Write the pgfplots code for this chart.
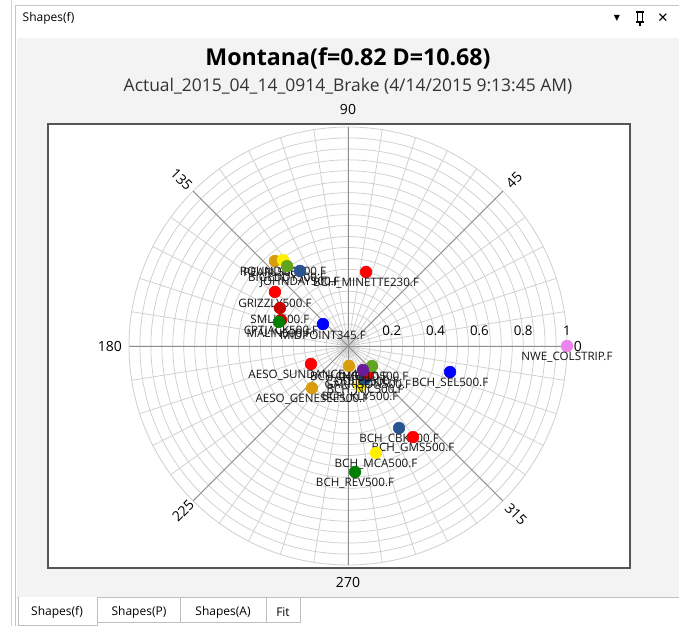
\documentclass[border=0pt]{standalone}
\usepackage{fontspec}
\setmainfont{Open Sans}
\newfontfamily\symfont{DejaVu Sans}
\usepackage{pgfplots}
\pgfplotsset{compat=1.18}
\usepgfplotslibrary{polar}

\definecolor{panelgray}{HTML}{F3F3F3}
\definecolor{boxgray}{HTML}{555555}
\definecolor{gridlight}{HTML}{CFCFCF}
\definecolor{gridmajor}{HTML}{8E8E8E}
\definecolor{labtext}{HTML}{141414}
\definecolor{ptviolet}{HTML}{EE82EE}
\definecolor{ptblue}{HTML}{0000FF}
\definecolor{ptred}{HTML}{FF0000}
\definecolor{ptdred}{HTML}{C80000}
\definecolor{ptgold}{HTML}{D89C0C}
\definecolor{ptyellow}{HTML}{FFF000}
\definecolor{ptgreen}{HTML}{008000}
\definecolor{ptlime}{HTML}{62A420}
\definecolor{ptnavy}{HTML}{2A5490}
\definecolor{ptpurple}{HTML}{6A1B9A}

\newcommand{\labfont}{\fontsize{8.7}{10}\selectfont}
\newcommand{\angfont}{\fontsize{10.5}{12}\selectfont}
\newcommand{\radfont}{\fontsize{10}{12}\selectfont}

\pgfplotsset{
  pt/.style={only marks, color=#1, mark=*, mark size=4.4pt, mark options={draw=#1, fill=#1}},
  lab/.style={nodes near coords={#1},
    every node near coord/.append style={anchor=center, yshift=-8.3pt,
      font=\labfont, text=labtext, inner sep=0pt}},
}

\begin{document}
\begin{tikzpicture}[x=0.75pt,y=0.75pt]
\fill[white] (0,0) rectangle (679,626);
\useasboundingbox (0,0) rectangle (679,626);
% window chrome
\fill[panelgray] (17,29) rectangle (679,588);
\draw[gray!45] (15.5,0) -- (15.5,621) -- (679,621);
\draw[gray!35] (11.5,0) -- (11.5,626);
\node[anchor=west, font=\fontsize{9}{10}\selectfont] at (18,608) {Shapes(f)};
\node[font=\symfont\fontsize{6}{7}\selectfont] at (617,608) {▼};
\draw[line width=1.1] (636,614) -- (644,614);
\draw[line width=1.1] (637.5,614) -- (637.5,604) (642.5,614) -- (642.5,604) (636,604) -- (644,604);
\draw[line width=1.1] (640,604) -- (640,600);
\node[font=\symfont\fontsize{10}{12}\selectfont] at (663,608) {✕};
% tabs
\draw[gray!50] (17,29) -- (679,29);
\fill[white] (18,1) rectangle (97,29);
\draw[gray!50] (18,29) -- (18,1) -- (97,1) -- (97,29);
\draw[gray!50] (97,4) -- (180,4) -- (180,29) (180,4) -- (266,4) -- (266,29) (266,4) -- (300,4) -- (300,29);
\node[font=\fontsize{9}{10}\selectfont] at (57,14) {Shapes(f)};
\node[font=\fontsize{9}{10}\selectfont] at (139,14) {Shapes(P)};
\node[font=\fontsize{9}{10}\selectfont] at (223,14) {Shapes(A)};
\node[font=\fontsize{9}{10}\selectfont] at (283,14) {Fit};
% chart box and titles
\filldraw[fill=white, draw=boxgray, line width=1.5] (48,502) rectangle (630,58);
\node[font=\bfseries\fontsize{17.4}{20}\selectfont] at (348,568) {Montana(f=0.82 D=10.68)};
\node[font=\fontsize{13.1}{15}\selectfont, text=black!80] at (348,540) {Actual\_2015\_04\_14\_0914\_Brake (4/14/2015 9:13:45 AM)};

\begin{polaraxis}[
  at={(261pt,210pt)}, anchor=center,
  scale only axis, width=328.5pt, height=328.5pt,
  ymin=0, ymax=1, clip=false,
  xtick={0,9,...,351},
  ytick={0.05,0.1,...,0.96},
  grid=major,
  major grid style={draw=gridlight, line width=0.55pt},
  axis line style={draw=gridlight, line width=0.6pt},
  major tick length=0pt, minor tick length=0pt,
  xticklabels={}, yticklabels={},
]
% darker spokes every 45 degrees
\draw[gridmajor, line width=0.7pt] (axis cs:0,1) -- (axis cs:180,1);
\draw[gridmajor, line width=0.7pt] (axis cs:90,1) -- (axis cs:270,1);
\draw[gridmajor, line width=0.7pt] (axis cs:45,1) -- (axis cs:225,1);
\draw[gridmajor, line width=0.7pt] (axis cs:135,1) -- (axis cs:315,1);
% upper left cluster
\addplot[pt=ptgold, lab={PEARL500.F}] coordinates {(130.7,0.512)};
\addplot[pt=ptyellow, lab={ROUNDUP500.F}] coordinates {(127.1,0.492)};
\addplot[pt=ptlime, lab={BIGEDDY500.F}] coordinates {(127.3,0.459)};
\addplot[pt=ptnavy, lab={JOHNDAY500.F}] coordinates {(122.6,0.407)};
\addplot[pt=ptred, lab={BCH\_MINETTE230.F}] coordinates {(76.3,0.348)};
\addplot[pt=ptred, lab={GRIZZLY500.F}] coordinates {(143.5,0.415)};
\addplot[pt=ptdred, lab={SMLK500.F}] coordinates {(150.8,0.356)};
\addplot[pt=ptdred, lab={CPTJACK500.F}] coordinates {(158.8,0.328)};
\addplot[pt=ptgreen, lab={MALIN500.F}] coordinates {(160.8,0.334)};
\addplot[pt=ptblue, lab={MIDPOINT345.F}] coordinates {(138.7,0.152)};
% centre cluster
\addplot[pt=ptred, lab={AESO\_SUNDANCE240.F}] coordinates {(205.9,0.188)};
\addplot[pt=ptgold, lab={AESO\_GENESEE500.F}] coordinates {(229.4,0.253)};
\addplot[pt=ptyellow, lab={BCH\_KLY500.F}] coordinates {(286.7,0.191)};
\addplot[pt=ptnavy, lab={BCH\_NIC500.F}] coordinates {(297.3,0.170)};
\addplot[pt=ptgold, lab={BCH\_ING500.F}] coordinates {(272.9,0.091)};
\addplot[pt=ptred, lab={GARRISON500.F}] coordinates {(306.5,0.153)};
\addplot[pt=ptlime, lab={CHIEFJO500.F}] coordinates {(320.2,0.143)};
\addplot[pt=ptpurple, lab={COULEE500.F}] coordinates {(302.0,0.129)};
% right and lower points
\addplot[pt=ptblue, lab={BCH\_SEL500.F}] coordinates {(345.7,0.481)};
\addplot[pt=ptviolet, lab={NWE\_COLSTRIP.F}] coordinates {(0,1.000)};
\addplot[pt=ptnavy, lab={BCH\_CBK500.F}] coordinates {(301.9,0.441)};
\addplot[pt=ptred, lab={BCH\_GMS500.F}] coordinates {(305.5,0.511)};
\addplot[pt=ptyellow, lab={BCH\_MCA500.F}] coordinates {(284.7,0.505)};
\addplot[pt=ptgreen, lab={BCH\_REV500.F}] coordinates {(273.2,0.576)};
% angle labels
\node[font=\angfont] at (axis cs:90,1.078) {90};
\node[font=\angfont] at (axis cs:270,1.082) {270};
\node[font=\angfont] at (axis cs:180,1.087) {180};
\node[font=\angfont] at (axis cs:0,1.05) {0};
\node[font=\angfont, rotate=45] at (axis cs:45,1.072) {45};
\node[font=\angfont, rotate=-45] at (axis cs:135,1.075) {135};
\node[font=\angfont, rotate=45] at (axis cs:225,1.065) {225};
\node[font=\angfont, rotate=-45] at (axis cs:315,1.085) {315};
% radial labels
\node[font=\radfont, yshift=11.2pt] at (axis cs:0,0.2) {0.2};
\node[font=\radfont, yshift=11.2pt] at (axis cs:0,0.4) {0.4};
\node[font=\radfont, yshift=11.2pt] at (axis cs:0,0.6) {0.6};
\node[font=\radfont, yshift=11.2pt] at (axis cs:0,0.8) {0.8};
\node[font=\radfont, yshift=11.2pt] at (axis cs:0,1.0) {1};
\end{polaraxis}
\end{tikzpicture}
\end{document}
